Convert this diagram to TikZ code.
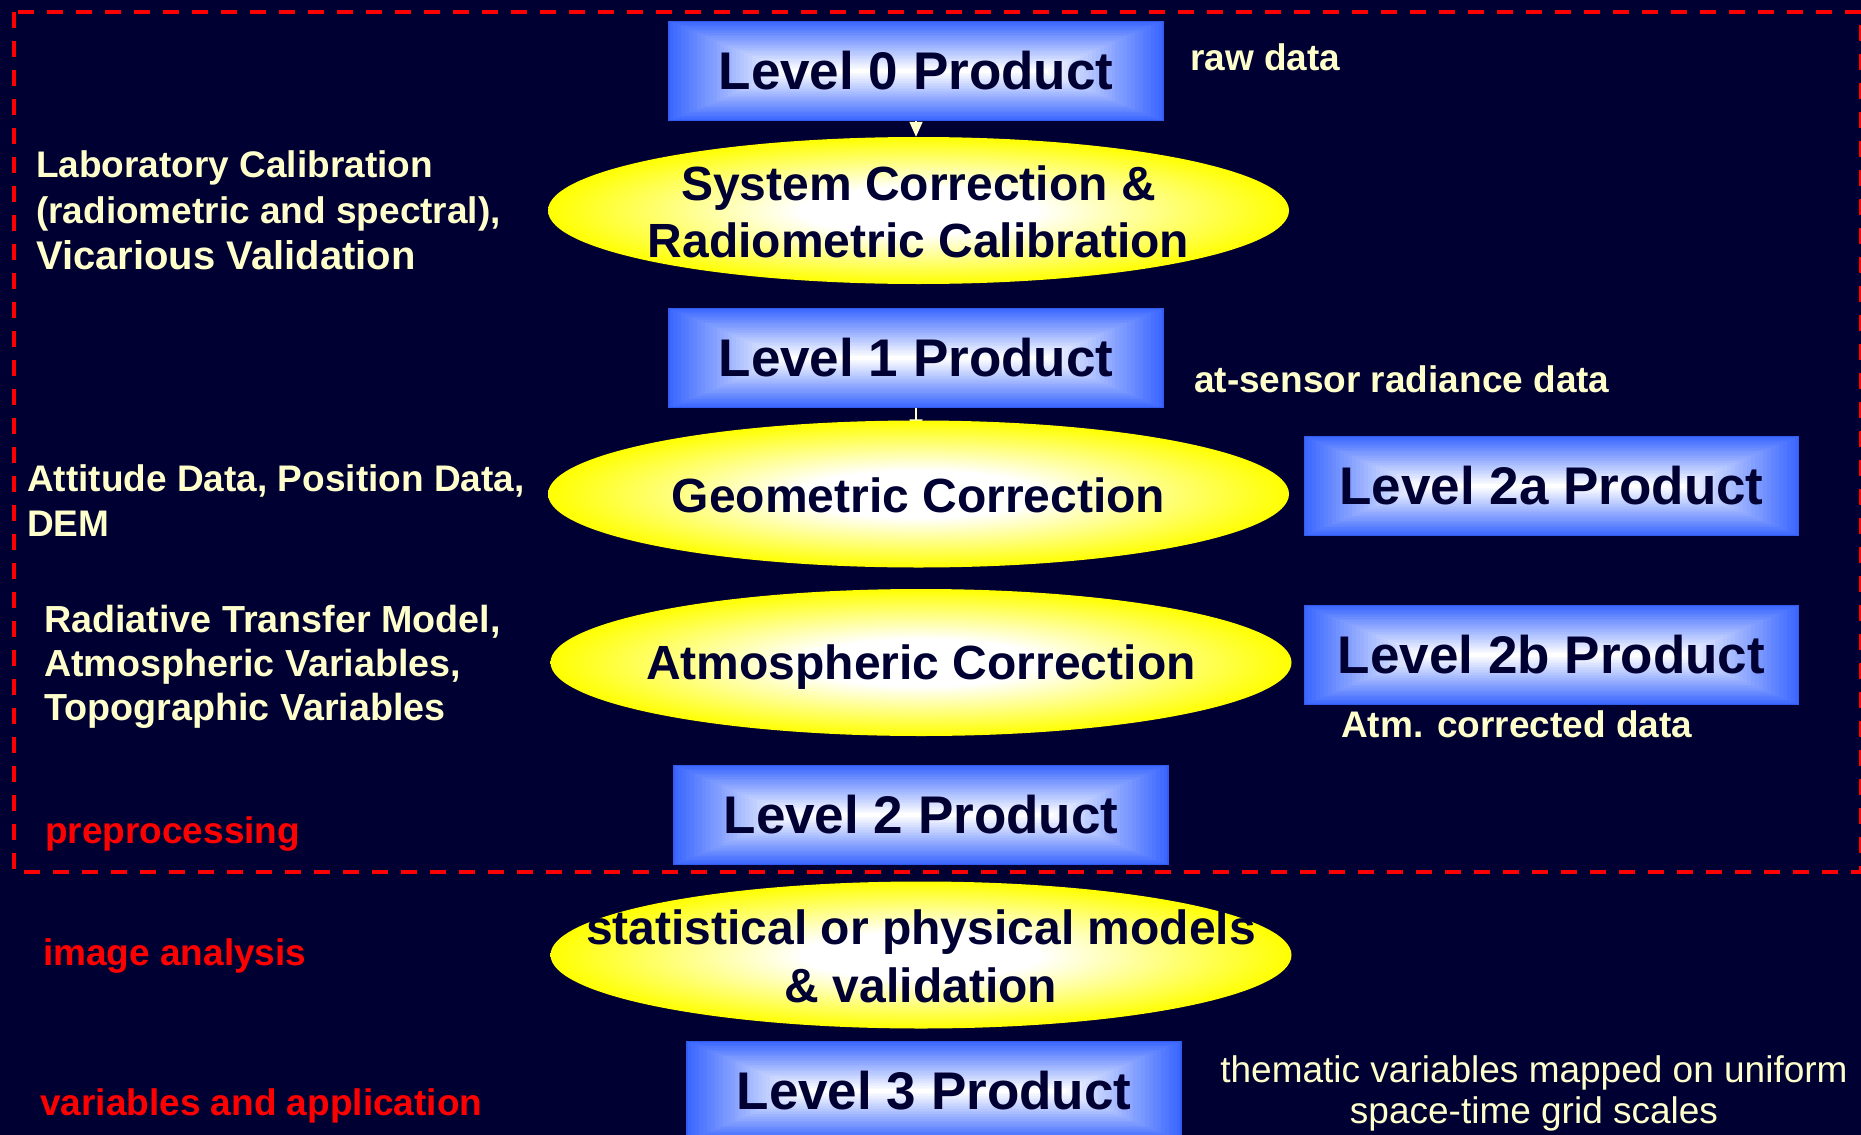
\documentclass[tikz,border=0pt]{standalone}
\usepackage{fontspec}
\setmainfont{Liberation Sans}
\usetikzlibrary{arrows.meta,shapes.geometric}
\definecolor{navy}{RGB}{0,0,51}
\definecolor{bxblue}{RGB}{60,104,255}
\definecolor{bxedge}{RGB}{52,92,238}
\definecolor{cream}{RGB}{255,255,204}
\definecolor{lblred}{RGB}{255,0,0}
\pgfdeclareradialshading{ellshade}{\pgfpoint{0bp}{0bp}}{color(0bp)=(white); color(8bp)=(white); color(25bp)=(yellow); color(50bp)=(yellow)}
\pgfdeclarelayer{behind}
\pgfsetlayers{behind,main}
\tikzset{
  prodbox/.style={rectangle, draw=bxedge, line width=1.5, minimum width=494, minimum height=99,
    inner sep=0, font=\fontsize{53}{60}\selectfont\bfseries, text=navy},
  procell/.style={ellipse, shade, shading=ellshade, draw=none, minimum width=741, minimum height=147, inner sep=0},
  proctext/.style={inner sep=0, align=center, font=\fontsize{48}{57.5}\selectfont\bfseries, text=navy},
  note/.style={inner sep=0, anchor=base west, font=\fontsize{37}{45}\selectfont\bfseries, text=cream},
  notes/.style={inner sep=0, anchor=north west, align=left, text=cream},
  redlbl/.style={inner sep=0, anchor=base west, font=\fontsize{37}{45}\selectfont\bfseries, text=lblred},
  conn/.style={draw=cream, line width=1.5, -{Triangle[length=15pt,width=13pt]}},
  frame/.style={draw=lblred, line width=4, dash pattern=on 16pt off 13pt}
}
\newcommand\prodbox[4]{%
  \foreach \i in {0,...,29}{%
    \pgfmathsetmacro\dy{\i*49.5/30}%
    \pgfmathsetmacro\dx{2.4*\dy}%
    \pgfmathtruncatemacro\p{100*\i/29}%
    \fill[white!\p!bxblue] ({#2-247+\dx},{#3-49.5+\dy}) rectangle ({#2+247-\dx},{#3+49.5-\dy});
  }
  \node[prodbox] (#1) at (#2,#3) {#4};
}
\begin{document}
\begin{tikzpicture}[x=1pt,y=-1pt]
\useasboundingbox (0,0) rectangle (1861,1135);
\begin{pgfonlayer}{behind}
\fill[navy] (0,0) rectangle (1861,1135);
\end{pgfonlayer}

% dashed preprocessing frame
\draw[frame] (14,12) rectangle (1861,872);

% product boxes
\prodbox{l0}{916}{71}{Level 0 Product}
\prodbox{l1}{916}{358}{Level 1 Product}
\prodbox{l2a}{1551.5}{486}{Level 2a Product}
\prodbox{l2b}{1551.5}{655}{Level 2b Product}
\prodbox{l2}{921}{815}{Level 2 Product}
\prodbox{l3}{934}{1091}{Level 3 Product}

% process ellipses
\node[procell] (e1) at (918.5,210.5) {};
\node[proctext] (e1t) at ([yshift=-1.5pt]e1.center) {System Correction \&\\Radiometric Calibration};
\node[procell] (e2) at (918.5,494) {};
\node[proctext] (e2t) at ([yshift=-1pt]e2.center) {Geometric Correction};
\node[procell] (e3) at (921,662.5) {};
\node[proctext, text depth=0pt] (e3t) at (e3.center) {Atmospheric Correction};
\node[procell] (e4) at (921,955) {};
\node[proctext] (e4t) at ([yshift=-1.5pt]e4.center) {statistical or physical models\\\& validation};

% connectors
\draw[conn] (l0.south) -- (l0.south |- e1.north);
\begin{pgfonlayer}{behind}
\draw[conn] (l1.south) -- ([yshift=-14pt]l1.south |- e2.north);
\end{pgfonlayer}

% side notes
\node[note] (raw) at (1190,70) {raw data};
\node[note] (atsensor) at (1194,392) {at-sensor radiance data};
\node[note] (atmcorr) at (1341,737) {Atm. corrected data};
\node[notes, font=\fontsize{37}{46}\selectfont\bfseries] (lab) at (36,150.5)
  {Laboratory Calibration\\(radiometric and spectral),\\{\fontsize{40}{46}\selectfont Vicarious Validation}};
\node[notes, font=\fontsize{37}{45}\selectfont\bfseries] (att) at (27,464.5)
  {Attitude Data, Position Data,\\DEM};
\node[notes, font=\fontsize{37.7}{44}\selectfont\bfseries] (rad) at (44,605)
  {Radiative Transfer Model,\\Atmospheric Variables,\\Topographic Variables};
\node[inner sep=0, anchor=north, align=center, text=cream, font=\fontsize{37}{41}\selectfont] (them) at (1534,1055.5)
  {thematic variables mapped on uniform\\space-time grid scales};

% stage labels
\node[redlbl] (pre) at (45,843) {preprocessing};
\node[redlbl] (ima) at (43,965) {image analysis};
\node[redlbl] (var) at (40,1115) {variables and application};
\end{tikzpicture}
\end{document}
